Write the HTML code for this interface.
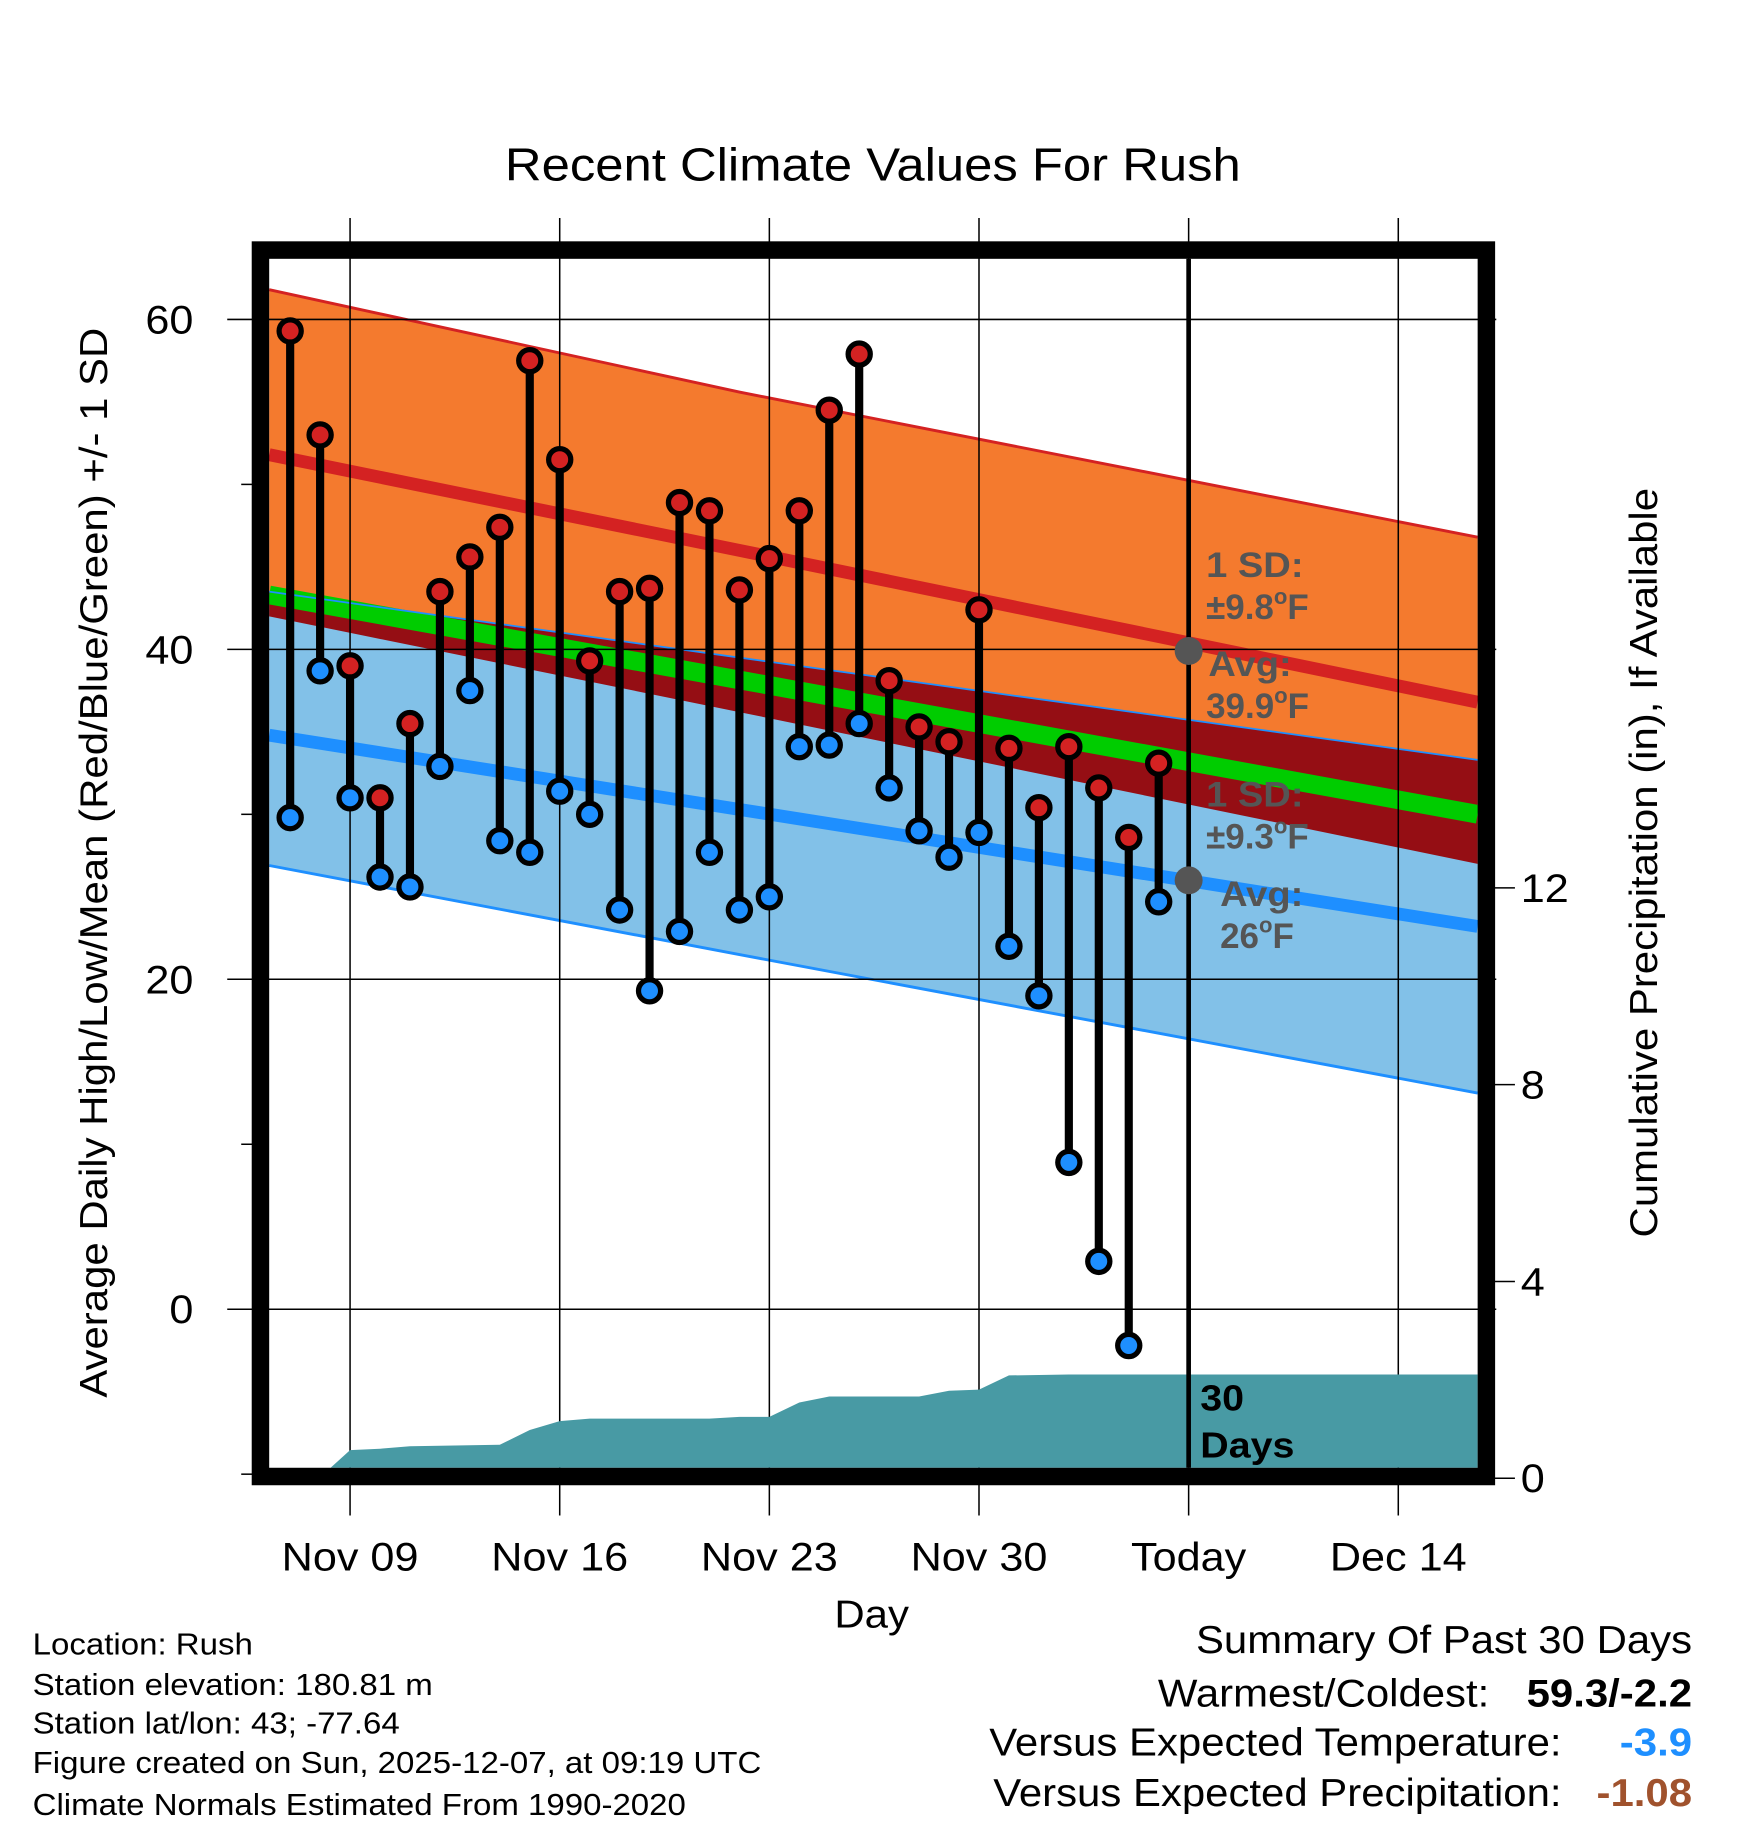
<!DOCTYPE html>
<html><head><meta charset="utf-8"><style>
html,body{margin:0;padding:0;background:#fff;}
svg{display:block;font-family:"Liberation Sans",Arial,sans-serif;}
</style></head><body>
<svg id="chart" width="1748" height="1828" viewBox="0 0 1500 1568" preserveAspectRatio="none" xmlns="http://www.w3.org/2000/svg">
<rect width="1500" height="1568" fill="#fff"/>
<text x="749" y="155" font-size="40" text-anchor="middle">Recent Climate Values For Rush</text>
<g id="bands"></g>
<g id="grid"></g>
<g id="precip"></g>
<g id="bars"></g>
<g id="frame"></g>
<g id="labels"></g>
</svg>
<script>
// ---- data ----
const normDays = [-0.7, 15, 39.65];
const hiTop = [61.8, 55.6, 46.8];
const hiAvg = [51.8, 46.0, 36.8];
const hiBot = [42.0, 36.2, 27.0];
const loTop = [43.5, 39.5, 33.3];
const loAvg = [34.8, 30.3, 23.2];
const loBot = [26.9, 21.5, 13.1];
const highs = [59.3,53,39,31,35.5,43.5,45.6,47.4,57.5,51.5,39.3,43.5,43.7,48.9,48.4,43.6,45.5,48.4,54.5,57.9,38.1,35.3,34.4,42.4,34,30.4,34.1,31.6,28.6,33.1];
const lows = [29.8,38.7,31,26.2,25.6,32.9,37.5,28.4,27.7,31.4,30,24.2,19.3,22.9,27.7,24.2,25,34.1,34.2,35.5,31.6,29,27.4,28.9,22,19,8.9,2.9,-2.2,24.7];
const precip = [0,0,0.57,0.6,0.65,0.66,0.67,0.68,0.98,1.16,1.21,1.21,1.21,1.21,1.21,1.25,1.25,1.54,1.66,1.66,1.66,1.66,1.78,1.8,2.09,2.1,2.11,2.11,2.11,2.11];
const xTickDays = [2,9,16,23,30,37];
const xTickLabels = ["Nov 09","Nov 16","Nov 23","Nov 30","Today","Dec 14"];
const yTicks = [0,20,40,60];
const yMinor = [-10,10,30,50];
const pTicks = [0,4,8,12];
// ---- axes ----
const L=231,R=1268,T=222,B=1259;
const X=d=>249+d*25.7;
const Y=v=>1123-v*14.15;
const YP=p=>1268-p*42.2;
const NS='http://www.w3.org/2000/svg';
function mk(tag,attrs,parent,txt){const e=document.createElementNS(NS,tag);for(const k in attrs)e.setAttribute(k,attrs[k]);if(txt!==undefined)e.textContent=txt;parent.appendChild(e);return e;}
const G=id=>document.getElementById(id);
const pts=(arr)=>normDays.map((d,i)=>X(d).toFixed(1)+','+Y(arr[i]).toFixed(1));
const band=(a,b)=>pts(a).concat(pts(b).reverse()).join(' ');
const bands=G('bands');
let e;
e=mk('polygon',{points:band(hiTop,hiBot),fill:'#f47a2e'},bands);


e=mk('polygon',{points:band(loTop,loBot),fill:'#82c1e8'},bands);


e=mk('polygon',{points:band(loTop,hiBot),fill:'#950e14'},bands);


const mean=hiAvg.map((v,i)=>(v+loAvg[i])/2);
e=mk('polyline',{points:pts(mean).join(' '),fill:'none',stroke:'#00cc00','stroke-width':16},bands);


e=mk('polyline',{points:pts(hiAvg).join(' '),fill:'none',stroke:'#d42222','stroke-width':11},bands);


e=mk('polyline',{points:pts(loAvg).join(' '),fill:'none',stroke:'#1e8fff','stroke-width':11},bands);


e=mk('polyline',{points:pts(hiTop).join(' '),fill:'none',stroke:'#d42222','stroke-width':2.5},bands);


e=mk('polyline',{points:pts(loBot).join(' '),fill:'none',stroke:'#1e8fff','stroke-width':2.5},bands);


e=mk('polyline',{points:pts(loTop).join(' '),fill:'none',stroke:'#1e8fff','stroke-width':1.5},bands);


// grid
const grid=G('grid');
xTickDays.forEach((d,i)=>{
  e=mk('line',{x1:X(d),x2:X(d),y1:187,y2:1300,stroke:'#000','stroke-width':1.3},grid);
  
  
  e=mk('text',{x:X(d),y:1347,'font-size':34,'text-anchor':'middle'},grid,xTickLabels[i]);
  
  
});
yTicks.forEach(v=>{
  e=mk('line',{x1:195,x2:1284,y1:Y(v),y2:Y(v),stroke:'#000','stroke-width':1.3},grid);
  
  
  e=mk('text',{x:166,y:Y(v)+12,'font-size':34,'text-anchor':'end'},grid,String(v));
  
  
});
yMinor.forEach(v=>{
  e=mk('line',{x1:207,x2:218,y1:Y(v),y2:Y(v),stroke:'#000','stroke-width':1.3},grid);
  
  
});
pTicks.forEach(p=>{
  e=mk('line',{x1:1282,x2:1300,y1:YP(p),y2:YP(p),stroke:'#000','stroke-width':1.3},grid);
  
  
  e=mk('text',{x:1305,y:YP(p)+12,'font-size':34},grid,String(p));
  
  
});
// precip area
let pp=[L+','+B];
precip.forEach((p,i)=>pp.push(X(i+(i===1?0.35:0)).toFixed(1)+','+Math.min(B,YP(p)).toFixed(1)));
pp.push(R+','+YP(precip[precip.length-1]).toFixed(1));
pp.push(R+','+B);
e=mk('polygon',{points:pp.join(' '),fill:'#489aa4'},G('precip'));


// today line
e=mk('line',{x1:X(30),x2:X(30),y1:T,y2:B,stroke:'#000','stroke-width':4},G('precip'));


// bars
const bars=G('bars');
highs.forEach((h,i)=>{
  const x=X(i);
  e=mk('line',{x1:x,x2:x,y1:Y(h),y2:Y(lows[i]),stroke:'#000','stroke-width':7},bars);
  
  
});
highs.forEach((h,i)=>{
  const x=X(i);
  e=mk('circle',{cx:x,cy:Y(h),r:9.5,fill:'#d42222',stroke:'#000','stroke-width':4.5},bars);
  
  
  e=mk('circle',{cx:x,cy:Y(lows[i]),r:9.5,fill:'#1e8fff',stroke:'#000','stroke-width':4.5},bars);
  
  
});
// avg markers
e=mk('circle',{cx:X(30),cy:Y(39.9),r:12,fill:'#555'},bars);


e=mk('circle',{cx:X(30),cy:Y(26),r:12,fill:'#555'},bars);


</script>
<script>
(function(){
const NS='http://www.w3.org/2000/svg';
const frame=document.getElementById('frame');
let e=document.createElementNS(NS,'rect');
e.setAttribute('x',223.5);e.setAttribute('y',214.5);e.setAttribute('width',1052);e.setAttribute('height',1052);
e.setAttribute('fill','none');e.setAttribute('stroke','#000');e.setAttribute('stroke-width',15);


frame.appendChild(e);
})();
</script>
<script>
(function(){
const svg=document.getElementById('labels');
const NS='http://www.w3.org/2000/svg';
function t(name,x,y,size,txt,opts){const e=document.createElementNS(NS,'text');e.setAttribute('x',x);e.setAttribute('y',y);e.setAttribute('font-size',size);
for(const k in (opts||{}))e.setAttribute(k,opts[k]);e.innerHTML=txt;


svg.appendChild(e);return e;}
const g={fill:'#555','font-weight':'bold'};
t('high-sd-label',1035,495,30,'1 SD:',g);
t('high-sd-value',1035,531,30,'±9.8<tspan font-size="19" dy="-13">o</tspan><tspan dy="13">F</tspan>',g);
t('high-avg-label',1037,580,30,'Avg:',g);
t('high-avg-value',1035,616,30,'39.9<tspan font-size="19" dy="-13">o</tspan><tspan dy="13">F</tspan>',g);
t('low-sd-label',1035,692,30,'1 SD:',g);
t('low-sd-value',1035,728,30,'±9.3<tspan font-size="19" dy="-13">o</tspan><tspan dy="13">F</tspan>',g);
t('low-avg-label',1047,777,30,'Avg:',g);
t('low-avg-value',1047,813,30,'26<tspan font-size="19" dy="-13">o</tspan><tspan dy="13">F</tspan>',g);
t('precip-days-label',1030,1210,31,'30',{'font-weight':'bold'});
t('precip-days-label-2',1030,1250,31,'Days',{'font-weight':'bold'});
t('x-axis-title',748,1396,33,'Day',{'text-anchor':'middle'});
t('y-axis-title',0,0,33,'Average Daily High/Low/Mean (Red/Blue/Green) +/- 1 SD',{'text-anchor':'middle',transform:'translate(92,740) rotate(-90)'});
t('precip-axis-title',0,0,33,'Cumulative Precipitation (in), If Available',{'text-anchor':'middle',transform:'translate(1422,740) rotate(-90)'});
const f=26;
t('location-text',28,1419,f,'Location: Rush');
t('elevation-text',28,1454,f,'Station elevation: 180.81 m');
t('latlon-text',28,1487,f,'Station lat/lon: 43; -77.64');
t('created-text',28,1521,f,'Figure created on Sun, 2025-12-07, at 09:19 UTC');
t('normals-text',28,1557,f,'Climate Normals Estimated From 1990-2020');
t('summary-title',1452,1418,33,'Summary Of Past 30 Days',{'text-anchor':'end'});
t('warmest-label',1278,1464,33,'Warmest/Coldest:',{'text-anchor':'end'});
t('warmest-value',1452,1464,33,'59.3/-2.2',{'text-anchor':'end','font-weight':'bold'});
t('temp-label',1340,1506,33,'Versus Expected Temperature:',{'text-anchor':'end'});
t('temp-value',1452,1506,33,'-3.9',{'text-anchor':'end','font-weight':'bold',fill:'#1e8fff'});
t('precip-label',1340,1549,33,'Versus Expected Precipitation:',{'text-anchor':'end'});
t('precip-value',1452,1549,33,'-1.08',{'text-anchor':'end','font-weight':'bold',fill:'#a0522d'});
// widen all text to match reference glyph widths
document.querySelectorAll('#chart text').forEach(el=>{
  if(el.querySelector('tspan'))return;
  const len=el.getComputedTextLength();
  if(len>0){el.setAttribute('textLength',(len*1.09).toFixed(1));el.setAttribute('lengthAdjust','spacingAndGlyphs');}
});
})();
</script>
</body></html>
